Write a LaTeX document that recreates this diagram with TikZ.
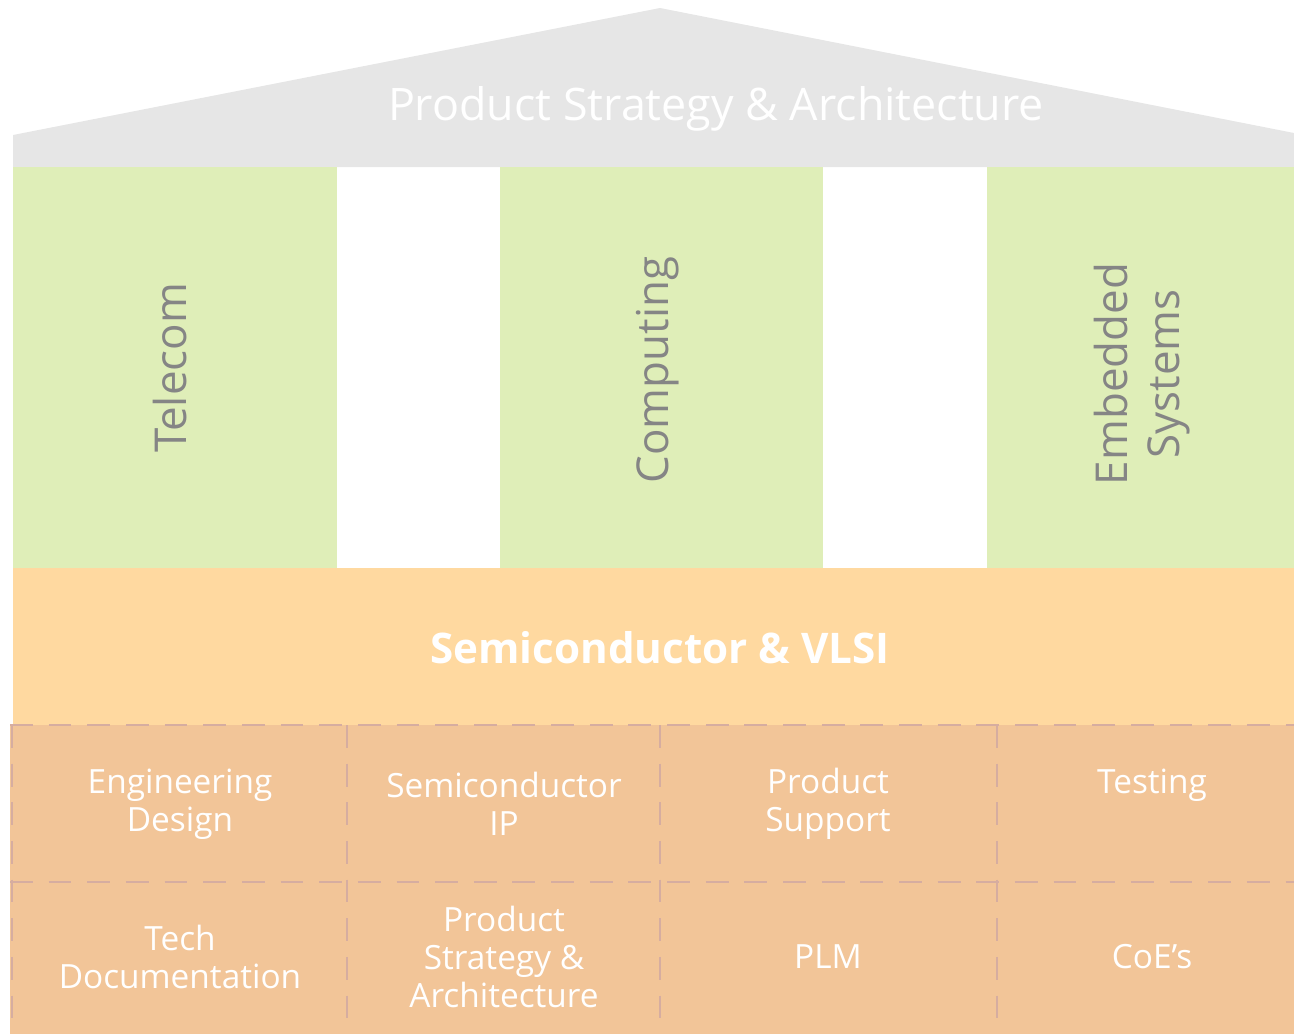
\documentclass[tikz,border=0pt]{standalone}
\usepackage{fontspec}
\setmainfont{Open Sans}
\usetikzlibrary{positioning}

\definecolor{roofgray}{HTML}{E6E6E6}
\definecolor{pillargreen}{HTML}{DFEEB8}
\definecolor{bandorange}{HTML}{FFD9A0}
\definecolor{cellorange}{HTML}{F2C598}
\definecolor{gridbrown}{HTML}{D6ADA0}
\definecolor{pillarink}{HTML}{858585}

\tikzset{
  rooftext/.style={text=white, font=\fontsize{25.5}{30}\selectfont},
  pillartext/.style={text=pillarink, rotate=90, align=center,
    font=\fontsize{25}{29.5}\selectfont},
  bandtext/.style={text=white, font=\bfseries\fontsize{24}{28}\selectfont},
  celltext/.style={text=white, align=center,
    font=\fontsize{19}{21.5}\selectfont},
  gridline/.style={gridbrown, line width=1.1pt, dash pattern=on 13pt off 9pt}
}

\begin{document}
\begin{tikzpicture}[x=0.02cm,y=-0.02cm]
    \useasboundingbox (0,0) rectangle (1294,1034);
    % ROOF
    \fill[roofgray] (13,167) -- (13,135) -- (660,8) -- (1294,133)
      -- (1294,167) -- cycle;
    \node[rooftext] (roof) at (716,109) {Product Strategy \& Architecture};
    % PILLARS
    \fill[pillargreen] (13,167) rectangle (337,568);
    \fill[pillargreen] (500,167) rectangle (823,568);
    \fill[pillargreen] (987,167) rectangle (1294,568);
    \node[pillartext] (telecom) at (170,368) {Telecom};
    \node[pillartext] (computing) at (658,370) {Computing};
    \node[pillartext] (embedded) at (1142,374) {Embedded\\Systems};
    % BAND
    \fill[bandorange] (13,568) rectangle (1294,725);
    \node[bandtext] (vlsi) at (660,648) {Semiconductor \& VLSI};
    % GRID
    \fill[cellorange] (10,725) rectangle (1294,1034);
    \draw[gridline] (10,725) -- (1294,725);
    \draw[gridline] (10,882) -- (1294,882);
    \foreach \x in {12,347,660,997}
      \draw[gridline] (\x,725) -- (\x,1034);
    % top row
    \node[celltext] (engdesign) at (180,804) {Engineering\\Design};
    \node[celltext] (semiip) at (504,804) {Semiconductor\\IP};
    \node[celltext] (support) at (828,804) {Product\\Support};
    \node[celltext] (testing) at (1152,785) {Testing};
    % bottom row
    \node[celltext] (techdoc) at (180,957) {Tech\\Documentation};
    \node[celltext] (strategy) at (504,957) {Product\\Strategy \&\\Architecture};
    \node[celltext] (plm) at (828,957) {PLM};
    \node[celltext] (coes) at (1152,957) {CoE's};
\end{tikzpicture}
\end{document}
